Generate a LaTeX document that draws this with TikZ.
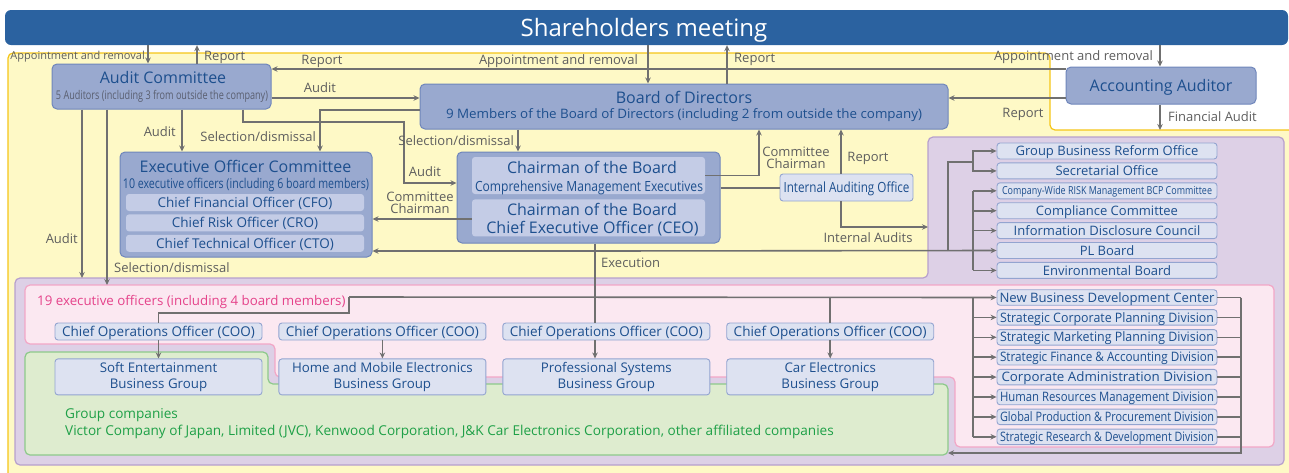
\documentclass[tikz,border=0pt]{standalone}
\usepackage{fontspec}
\setmainfont{Open Sans}
\usepackage{graphicx}
\usepackage{tikz}
\usetikzlibrary{arrows.meta,positioning}

\definecolor{shblue}{HTML}{2B62A0}
\definecolor{yelfill}{HTML}{FEF9C6}
\definecolor{yelline}{HTML}{F5C518}
\definecolor{purfill}{HTML}{DDD0E6}
\definecolor{purline}{HTML}{B7A0CD}
\definecolor{pinkfill}{HTML}{FBE8F1}
\definecolor{pinkline}{HTML}{F2A6C6}
\definecolor{grnfill}{HTML}{DEECCF}
\definecolor{grnline}{HTML}{8DC98B}
\definecolor{boxfill}{HTML}{99A9CF}
\definecolor{boxline}{HTML}{6F86BB}
\definecolor{subfill}{HTML}{C4CCE6}
\definecolor{itemfill}{HTML}{DDE2F1}
\definecolor{itemline}{HTML}{93A4D0}
\definecolor{txt}{HTML}{1D4F8E}
\definecolor{lblgray}{HTML}{5E5E5E}
\definecolor{linegray}{HTML}{707070}
\definecolor{pinktxt}{HTML}{E5428A}
\definecolor{grntxt}{HTML}{1EA047}
\definecolor{audgray}{HTML}{5A5F70}

\newcommand{\squeeze}[2]{\resizebox{#1}{\height}{#2}}

\begin{document}
\begin{tikzpicture}[x=1pt,y=-1pt,node distance=3pt]
  \tikzstyle{box}=[draw=boxline,fill=boxfill,line width=1pt,rounded corners=5pt,inner sep=0pt]
  \tikzstyle{sub}=[fill=subfill,rounded corners=3pt,inner sep=0pt,text=txt,font=\fontsize{13.5}{14}\selectfont,text height=9.6pt,text depth=0pt]
  \tikzstyle{item}=[draw=itemline,fill=itemfill,line width=0.9pt,rounded corners=3pt,inner sep=0pt,text=txt,font=\fontsize{13}{14}\selectfont,text height=9.3pt,text depth=0pt,minimum width=220pt,minimum height=16pt]
  \tikzstyle{ttl}=[text=txt,inner sep=0pt,font=\fontsize{16}{18}\selectfont,anchor=base]
  \tikzstyle{lbl}=[text=lblgray,inner sep=0pt,font=\fontsize{13}{13}\selectfont,text height=9.3pt,text depth=0pt]
  \tikzstyle{arr}=[draw=linegray,line width=1.6pt,-{Stealth[length=6pt,width=5.5pt]}]
  \tikzstyle{ln}=[draw=linegray,line width=1.6pt]

  \useasboundingbox (0,0) rectangle (1289,472);

  % company areas
  \draw[yelline,fill=yelfill,line width=1.2pt,rounded corners=5pt]
    (8,53) -- (1050,53) -- (1050,130) -- (1300,130) -- (1300,480) -- (8,480) -- cycle;
  \draw[purline,fill=purfill,line width=1.2pt,rounded corners=5pt]
    (928,137) -- (1284,137) -- (1284,465) -- (15,465) -- (15,278) -- (928,278) -- cycle;
  \draw[pinkline,fill=pinkfill,line width=1.2pt,rounded corners=5pt]
    (25,285) -- (1274,285) -- (1274,447) -- (955,447) -- (955,377) -- (275,377) -- (275,344) -- (25,344) -- cycle;
  \draw[grnline,fill=grnfill,line width=1.2pt,rounded corners=5pt]
    (25,352) -- (268,352) -- (268,384) -- (948,384) -- (948,455) -- (25,455) -- cycle;
  \coordinate (fin) at (1160,130);
  \coordinate (ipan) at (928,227);
  \coordinate (ptop) at (82,278);
  \coordinate (pktop) at (107,285);
  \coordinate (grp) at (948,453);

  % shareholders
  \node[fill=shblue,rounded corners=6pt,minimum width=1283pt,minimum height=35pt] (share) at (646.5,27.5) {};
  \node[inner sep=0pt,text=white,font=\fontsize{24}{26}\selectfont,anchor=base] (shareT) at (644,36.5) {Shareholders meeting};

  % audit committee
  \node[box,minimum width=219pt,minimum height=45pt] (audit) at (161.5,86.5) {};
  \node[ttl] (auditT) at (163,83.3) {Audit Committee};
  \node[inner sep=0pt,anchor=base,text=audgray,font=\fontsize{12}{13}\selectfont] (auditS) at (162,99.3)
    {\squeeze{212pt}{5 Auditors (including 3 from outside the company)}};

  % board of directors
  \node[box,minimum width=528pt,minimum height=45pt] (board) at (684,106.5) {};
  \node[ttl] (boardT) at (684,103.3) {Board of Directors};
  \node[inner sep=0pt,anchor=base,text=txt,font=\fontsize{13}{14}\selectfont] (boardS) at (684,118.3)
    {\squeeze{476pt}{9 Members of the Board of Directors (including 2 from outside the company)}};

  % accounting auditor
  \node[box,minimum width=190pt,minimum height=37pt] (acc) at (1161,85.5) {};
  \node[ttl] (accT) at (1161,91) {Accounting Auditor};

  % executive officer committee
  \node[box,minimum width=252pt,minimum height=105pt] (exec) at (246,204.5) {};
  \node[ttl] (execT) at (245.5,172.3) {Executive Officer Committee};
  \node[inner sep=0pt,anchor=base,text=txt,font=\fontsize{13.5}{14}\selectfont] (execS) at (246,188.3)
    {\squeeze{246pt}{10 executive officers (including 6 board members)}};
  \node[sub,minimum width=238pt,minimum height=17pt] (cfo) at (245,202.5) {Chief Financial Officer (CFO)};
  \node[sub,minimum width=238pt,minimum height=17pt,below=3pt of cfo] (cro) {Chief Risk Officer (CRO)};
  \node[sub,minimum width=238pt,minimum height=17pt,below=3pt of cro] (cto) {Chief Technical Officer (CTO)};

  % chairman
  \node[box,minimum width=263pt,minimum height=91pt] (chair) at (588.5,197.5) {};
  \node[sub,minimum width=233pt,minimum height=37pt] (cme) at (588.5,175.5) {};
  \node[sub,minimum width=233pt,minimum height=37pt,below=5pt of cme] (ceo) {};
  \node[ttl] (cmeT) at (592,173.3) {Chairman of the Board};
  \node[inner sep=0pt,anchor=base,text=txt,font=\fontsize{14}{15}\selectfont] (cmeS) at (589,191)
    {\squeeze{228pt}{Comprehensive Management Executives}};
  \node[ttl] (ceoT) at (592,215) {Chairman of the Board};
  \node[ttl] (ceoS) at (592.5,233.3) {Chief Executive Officer (CEO)};

  % internal auditing office
  \node[item,minimum width=133pt,minimum height=27pt,font=\fontsize{14}{15}\selectfont,text height=10pt] (iao) at (846.5,187.5) {\squeeze{126pt}{Internal Auditing Office}};

  % staff offices
  \node[item] (gbr) at (1107,151) {Group Business Reform Office};
  \node[item,below=of gbr] (sec) {Secretarial Office};
  \node[item,below=of sec,font=\fontsize{11}{12}\selectfont,text height=7.9pt] (risk) {\squeeze{210pt}{Company-Wide RISK Management BCP Committee}};
  \node[item,below=of risk] (comp) {Compliance Committee};
  \node[item,below=of comp] (info) {Information Disclosure Council};
  \node[item,below=of info] (pl) {PL Board};
  \node[item,below=of pl] (env) {Environmental Board};

  % divisions
  \node[item,minimum height=15.5pt] (nbd) at (1107,297.5) {\squeeze{215pt}{New Business Development Center}};
  \node[item,minimum height=15.5pt,below=3.5pt of nbd] (scp) {\squeeze{214pt}{Strategic Corporate Planning Division}};
  \node[item,minimum height=15.5pt,below=3.5pt of scp] (smp) {\squeeze{214pt}{Strategic Marketing Planning Division}};
  \node[item,minimum height=15.5pt,below=3.5pt of smp] (sfa) {\squeeze{214pt}{Strategic Finance \& Accounting Division}};
  \node[item,minimum height=15.5pt,below=3.5pt of sfa] (cad) {\squeeze{211pt}{Corporate Administration Division}};
  \node[item,minimum height=15.5pt,below=3.5pt of cad] (hrm) {\squeeze{214pt}{Human Resources Management Division}};
  \node[item,minimum height=15.5pt,below=3.5pt of hrm] (gpp) {\squeeze{214pt}{Global Production \& Procurement Division}};
  \node[item,minimum height=15.5pt,below=3.5pt of gpp] (srd) {\squeeze{214pt}{Strategic Research \& Development Division}};

  % operations
  \node[inner sep=0pt,anchor=west,text=pinktxt,font=\fontsize{13.3}{14}\selectfont,text height=9.5pt,text depth=0pt] (pkT) at (37,301)
    {19 executive officers (including 4 board members)};
  \node[item,minimum width=207pt,minimum height=17pt,font=\fontsize{13.5}{14}\selectfont,text height=9.6pt] (coo1) at (158.5,331.5) {Chief Operations Officer (COO)};
  \node[item,minimum width=207pt,minimum height=17pt,font=\fontsize{13.5}{14}\selectfont,text height=9.6pt,right=16pt of coo1] (coo2) {Chief Operations Officer (COO)};
  \node[item,minimum width=207pt,minimum height=17pt,font=\fontsize{13.5}{14}\selectfont,text height=9.6pt,right=16pt of coo2] (coo3) {Chief Operations Officer (COO)};
  \node[item,minimum width=207pt,minimum height=17pt,font=\fontsize{13.5}{14}\selectfont,text height=9.6pt,right=16pt of coo3] (coo4) {Chief Operations Officer (COO)};
  \node[item,minimum width=207pt,minimum height=36pt,text height=,text depth=,align=center,font=\fontsize{13.3}{15.7}\selectfont,below=18pt of coo1] (bg1) {Soft Entertainment\\Business Group};
  \node[item,minimum width=207pt,minimum height=36pt,text height=,text depth=,align=center,font=\fontsize{13.3}{15.7}\selectfont,below=18pt of coo2] (bg2) {Home and Mobile Electronics\\Business Group};
  \node[item,minimum width=207pt,minimum height=36pt,text height=,text depth=,align=center,font=\fontsize{13.3}{15.7}\selectfont,below=18pt of coo3] (bg3) {Professional Systems\\Business Group};
  \node[item,minimum width=207pt,minimum height=36pt,text height=,text depth=,align=center,font=\fontsize{13.3}{15.7}\selectfont,below=18pt of coo4] (bg4) {Car Electronics\\Business Group};
  \node[inner sep=0pt,anchor=base west,text=grntxt,font=\fontsize{13.6}{14}\selectfont] (gcT) at (65,418.5) {Group companies};
  \node[inner sep=0pt,anchor=base west,text=grntxt,font=\fontsize{13.6}{14}\selectfont] (gcS) at (65,435.5)
    {Victor Company of Japan, Limited (JVC), Kenwood Corporation, J\&K Car Electronics Corporation, other affiliated companies};

  % audit committee links
  \draw[arr] (share.south -| 148,0) -- (audit.north -| 148,0);
  \draw[arr] (audit.north -| 197,0) -- (share.south -| 197,0);
  \draw[arr] (acc.west |- 0,69) -- (audit.east |- 0,69);
  \draw[arr] (audit.east |- 0,98) -- (board.west |- 0,98);
  \draw[arr] (audit.south -| 182,0) -- (exec.north -| 182,0);
  \draw[arr] (audit.south -| 243,0) |- (404,122) |- (chair.west |- 0,183);
  \draw[arr] (audit.south -| 82,0) -- (ptop);
  \draw[arr] (audit.south -| 107,0) -- (pktop);
  % board links
  \draw[arr] (share.south -| 648,0) -- (board.north -| 648,0);
  \draw[arr] (board.north -| 727,0) -- (share.south -| 727,0);
  \draw[arr] (board.west |- 0,110) -| (exec.north -| 320,0);
  \draw[arr] (board.south -| 518,0) -- (chair.north -| 518,0);
  % accounting auditor links
  \draw[arr] (share.south -| 1160,0) -- (acc.north -| 1160,0);
  \draw[arr] (acc.west |- 0,98) -- (board.east |- 0,98);
  \draw[arr] (acc.south -| 1160,0) -- (fin);
  % chairman links
  \draw[arr] (ceo.west |- 0,219) -- (exec.east |- 0,219);
  \draw[arr] (cme.east) -| (board.south -| 759,0);
  \draw[ln] (chair.east |- 0,188) -- (iao.west |- 0,188);
  \draw[arr] (iao.north -| 841,0) -- (board.south -| 841,0);
  \draw[arr] (iao.south -| 841,0) |- (ipan);
  % execution
  \coordinate (j1) at (595,251);
  \coordinate (j2) at (948,251);
  \coordinate (j3) at (973,162);
  \coordinate (e1) at (349,297);
  \draw[ln] (chair.south -| j1) -- (coo3.north -| j1);
  \draw[arr] (j1) -- (exec.east |- j1);
  \draw[arr] (j1) -- (pl.west);
  \draw[ln] (j2) |- (j3);
  \draw[arr] (j3) |- (gbr.west);
  \draw[arr] (j3) |- (sec.west);
  \draw[ln] (risk.west -| j3) -- (env.west -| j3);
  \draw[arr] (risk.west -| j3) -- (risk.west);
  \draw[arr] (comp.west -| j3) -- (comp.west);
  \draw[arr] (info.west -| j3) -- (info.west);
  \draw[arr] (env.west -| j3) -- (env.west);
  \draw[arr] (e1) -- (nbd.west);
  \draw[ln] (e1) |- (coo1.north |- 0,313) -- (coo1.north);
  \draw[ln] (coo4.north |- e1) -- (coo4.north);
  \draw[ln] (nbd.west -| j3) -- (srd.west -| j3);
  \draw[arr] (scp.west -| j3) -- (scp.west);
  \draw[arr] (smp.west -| j3) -- (smp.west);
  \draw[arr] (sfa.west -| j3) -- (sfa.west);
  \draw[arr] (cad.west -| j3) -- (cad.west);
  \draw[arr] (hrm.west -| j3) -- (hrm.west);
  \draw[arr] (gpp.west -| j3) -- (gpp.west);
  \draw[arr] (srd.west -| j3) -- (srd.west);
  \draw[arr] (coo1.south) -- (bg1.north);
  \draw[arr] (coo2.south) -- (bg2.north);
  \draw[arr] (coo3.south -| j1) -- (bg3.north -| j1);
  \draw[arr] (coo4.south) -- (bg4.north);
  % divisions back to group companies
  \draw[ln] (nbd.east) -- (nbd.east -| 1241,0);
  \draw[ln] (scp.east) -- (scp.east -| 1241,0);
  \draw[ln] (smp.east) -- (smp.east -| 1241,0);
  \draw[ln] (sfa.east) -- (sfa.east -| 1241,0);
  \draw[ln] (cad.east) -- (cad.east -| 1241,0);
  \draw[ln] (hrm.east) -- (hrm.east -| 1241,0);
  \draw[ln] (gpp.east) -- (gpp.east -| 1241,0);
  \draw[ln] (srd.east) -- (srd.east -| 1241,0);
  \draw[arr] (nbd.east -| 1241,0) |- (grp);

  % labels
  \node[lbl,font=\fontsize{11}{11}\selectfont,text height=7.9pt,anchor=east] (l1) at (145,56) {Appointment and removal};
  \node[lbl,anchor=west] (l2) at (204,56) {Report};
  \node[lbl] (l3) at (322,60) {Report};
  \node[lbl] (l4) at (320,88) {Audit};
  \node[lbl,anchor=east] (l5) at (176,132) {Audit};
  \node[lbl,anchor=east] (l6) at (316,137) {Selection/dismissal};
  \node[lbl] (l7) at (425,172) {Audit};
  \node[lbl,anchor=east] (l8) at (514,141) {Selection/dismissal};
  \node[lbl,anchor=east] (l9) at (638,60) {Appointment and removal};
  \node[lbl,anchor=west] (l10) at (734,58) {Report};
  \node[lbl,anchor=east] (l11) at (1153,56) {Appointment and removal};
  \node[lbl] (l12) at (1023,113) {Report};
  \node[lbl,anchor=west] (l13) at (1168,117) {Financial Audit};
  \node[lbl,align=center,text height=,text depth=,font=\fontsize{13}{12}\selectfont] (l14) at (420,203) {Committee\\Chairman};
  \node[lbl,align=center,text height=,text depth=,font=\fontsize{13}{12}\selectfont] (l15) at (796,158) {Committee\\Chairman};
  \node[lbl] (l16) at (868,157) {Report};
  \node[lbl] (l17) at (868,238) {Internal Audits};
  \node[lbl,anchor=west] (l18) at (601,263) {Execution};
  \node[lbl,anchor=east] (l19) at (78,239) {Audit};
  \node[lbl,anchor=west] (l20) at (114,268) {Selection/dismissal};
\end{tikzpicture}
\end{document}
